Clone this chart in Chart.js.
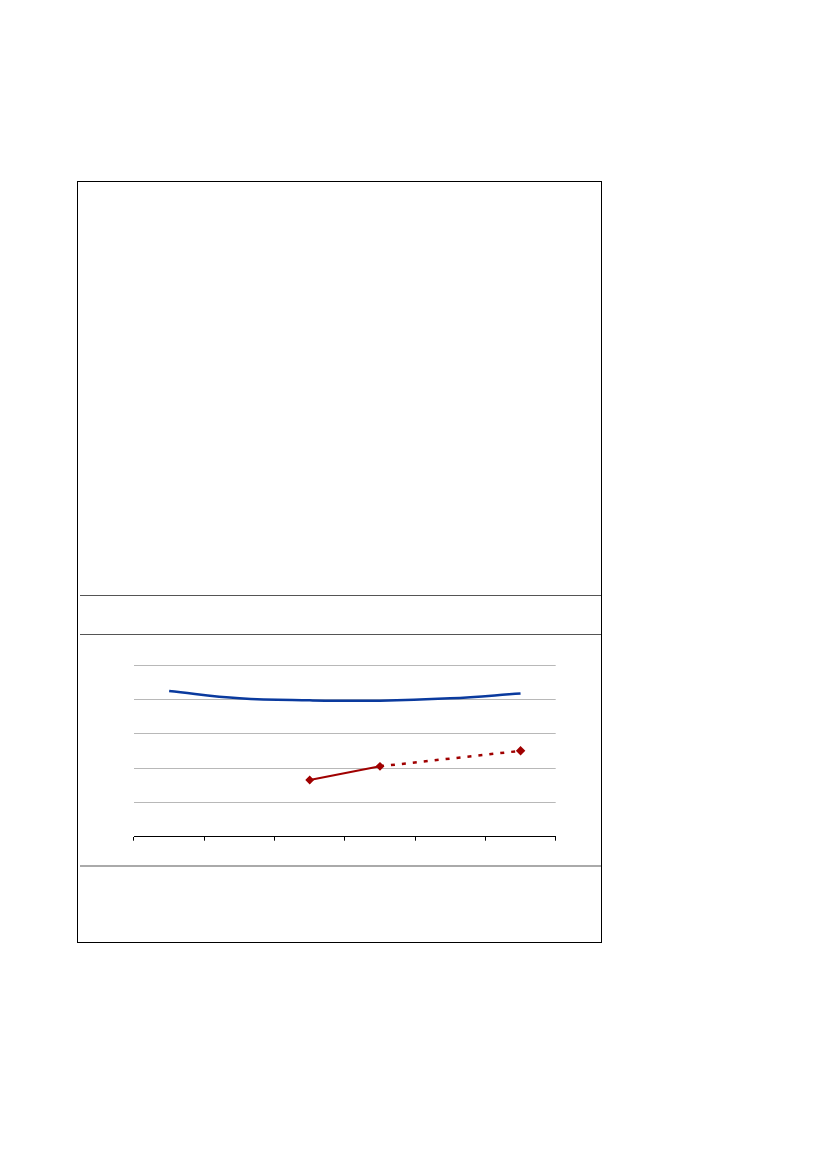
<!DOCTYPE html>
<html>
<head>
<meta charset="utf-8">
<script src="https://cdn.jsdelivr.net/npm/chart.js@4/dist/chart.umd.min.js"></script>
<style>
  body { margin: 0; background: #fff; font-family: "Liberation Sans", Arial, sans-serif; }
  #frame { position: absolute; left: 77px; top: 181px; width: 523px; height: 760px; border: 1.5px solid #000; }
  .rule { position: absolute; height: 0; }
  #wrap { position: absolute; left: 100px; top: 645px; width: 480px; height: 210px; }
</style>
</head>
<body>
<div id="frame"></div>
<div class="rule" style="left:80px; width:521px; top:595px; border-top:1px solid #555;"></div>
<div class="rule" style="left:80px; width:521px; top:633.5px; border-top:1px solid #555;"></div>
<div class="rule" style="left:80px; width:521px; top:865px; border-top:2px solid #aaa;"></div>
<div id="wrap"><canvas id="chart"></canvas></div>
<script>
// categories (no labels are printed on the chart)
const categories = ['1', '2', '3', '4', '5', '6'];
const blueValues = [4.24, 4.03, 3.97, 3.96, 4.03, 4.17];
const redSolid   = [null, null, 1.65, 2.05, null, null];
const redDashed  = [null, null, null, 2.05, null, 2.50];

const blue = '#0a3a9e';
const red = '#a00000';

const ctx = document.getElementById('chart').getContext('2d');
const chart = new Chart(ctx, {
  type: 'line',
  data: {
    labels: categories,
    datasets: [
      {
        data: redDashed,
        borderColor: red,
        backgroundColor: red,
        borderWidth: 2.5,
        borderDash: [4, 7],
        spanGaps: true,
        pointStyle: 'rectRot',
        pointRadius: [0, 0, 0, 0, 0, 3],
        tension: 0
      },
      {
        data: redSolid,
        borderColor: red,
        backgroundColor: red,
        borderWidth: 2,
        pointStyle: 'rectRot',
        pointRadius: 3,
        tension: 0
      },
      {
        data: blueValues,
        borderColor: blue,
        borderWidth: 2.5,
        pointRadius: 0,
        tension: 0.4
      }
    ]
  },
  options: {
    responsive: true,
    maintainAspectRatio: false,
    animation: false,
    layout: { padding: { left: 34, right: 24.3, top: 20, bottom: 14.3 } },
    plugins: { legend: { display: false }, tooltip: { enabled: false } },
    scales: {
      x: {
        offset: true,
        grid: { offset: true, drawOnChartArea: false, drawTicks: true, tickLength: 4, color: '#000' },
        border: { display: true, color: '#000', width: 1 },
        ticks: { display: false },
        afterFit: s => { s.height = 4; }
      },
      y: {
        min: 0,
        max: 5,
        ticks: { display: false, stepSize: 1 },
        grid: { color: '#b8b8b8', drawTicks: false },
        border: { display: false },
        afterFit: s => { s.width = 0; }
      }
    }
  }
});
</script>
</body>
</html>
